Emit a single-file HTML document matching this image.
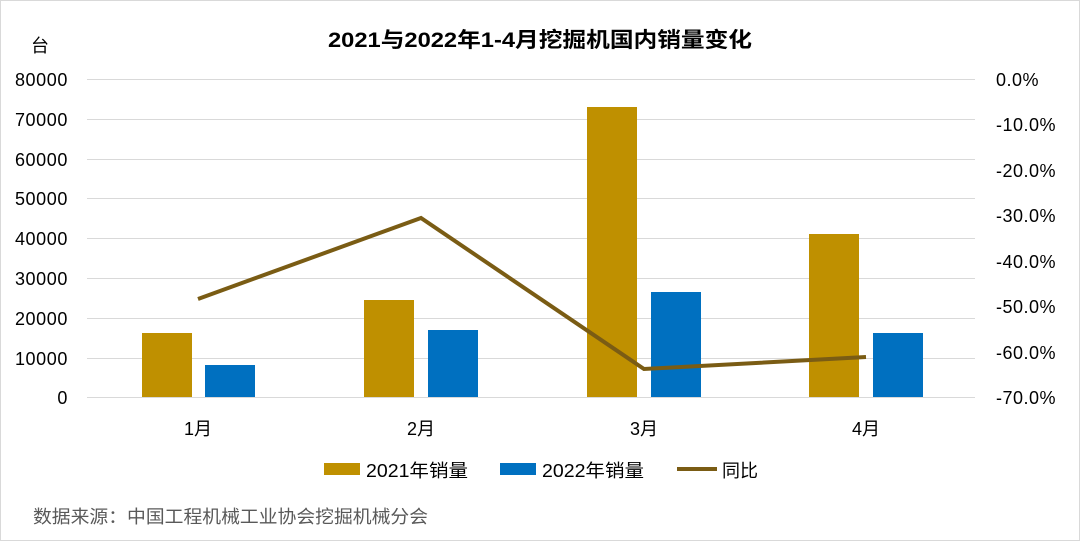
<!DOCTYPE html><html><head><meta charset="utf-8"><style>body{margin:0;background:#fff}svg text{font-family:"Liberation Sans","Noto Sans CJK SC",sans-serif}</style></head><body>
<svg width="1080" height="541" xmlns="http://www.w3.org/2000/svg">
<rect x="0.5" y="0.5" width="1079" height="540" fill="#fff" stroke="#d9d9d9"/>
<g stroke="#d9d9d9" stroke-width="1">
<line x1="87" x2="975" y1="79.5" y2="79.5"/><line x1="87" x2="975" y1="119.5" y2="119.5"/><line x1="87" x2="975" y1="159.5" y2="159.5"/><line x1="87" x2="975" y1="198.5" y2="198.5"/><line x1="87" x2="975" y1="238.5" y2="238.5"/><line x1="87" x2="975" y1="278.5" y2="278.5"/><line x1="87" x2="975" y1="318.5" y2="318.5"/><line x1="87" x2="975" y1="358.5" y2="358.5"/><line x1="87" x2="975" y1="397.5" y2="397.5"/>
</g>
<text x="328" y="47" font-size="21" font-weight="bold" fill="#000" textLength="424" lengthAdjust="spacingAndGlyphs">2021与2022年1-4月挖掘机国内销量变化</text>
<text x="40" y="52" text-anchor="middle" font-size="18" fill="#000">台</text>
<g font-size="18" fill="#000" text-anchor="end" letter-spacing="0.6">
<text x="68" y="86">80000</text><text x="68" y="126">70000</text><text x="68" y="166">60000</text><text x="68" y="205">50000</text><text x="68" y="245">40000</text><text x="68" y="285">30000</text><text x="68" y="325">20000</text><text x="68" y="365">10000</text><text x="68" y="404">0</text>
</g>
<g font-size="18" fill="#000" letter-spacing="0.5">
<text x="996" y="86">0.0%</text><text x="996" y="131">-10.0%</text><text x="996" y="177">-20.0%</text><text x="996" y="222">-30.0%</text><text x="996" y="268">-40.0%</text><text x="996" y="313">-50.0%</text><text x="996" y="359">-60.0%</text><text x="996" y="404">-70.0%</text>
</g>
<g fill="#bf9000"><rect x="142" y="333" width="50" height="64"/><rect x="364" y="300" width="50" height="97"/><rect x="587" y="107" width="50" height="290"/><rect x="809" y="234" width="50" height="163"/></g>
<g fill="#0070c0"><rect x="205" y="365" width="50" height="32"/><rect x="428" y="330" width="50" height="67"/><rect x="651" y="292" width="50" height="105"/><rect x="873" y="333" width="50" height="64"/></g>
<polyline points="198,299 421,218 644,369 866,357" fill="none" stroke="#7a5c14" stroke-width="4"/>
<g font-size="18" fill="#000" text-anchor="middle"><text x="198" y="435">1月</text><text x="421" y="435">2月</text><text x="644" y="435">3月</text><text x="866" y="435">4月</text></g>
<rect x="324" y="463" width="36" height="12" fill="#bf9000"/><text x="366" y="477" font-size="18" textLength="102" lengthAdjust="spacingAndGlyphs">2021年销量</text>
<rect x="500" y="463" width="36" height="12" fill="#0070c0"/><text x="542" y="477" font-size="18" textLength="102" lengthAdjust="spacingAndGlyphs">2022年销量</text>
<line x1="677" x2="717" y1="469" y2="469" stroke="#7a5c14" stroke-width="4"/><text x="722" y="477" font-size="18">同比</text>
<text x="33" y="523" font-size="18" fill="#595959" textLength="395" lengthAdjust="spacingAndGlyphs">数据来源：中国工程机械工业协会挖掘机械分会</text>
</svg></body></html>
